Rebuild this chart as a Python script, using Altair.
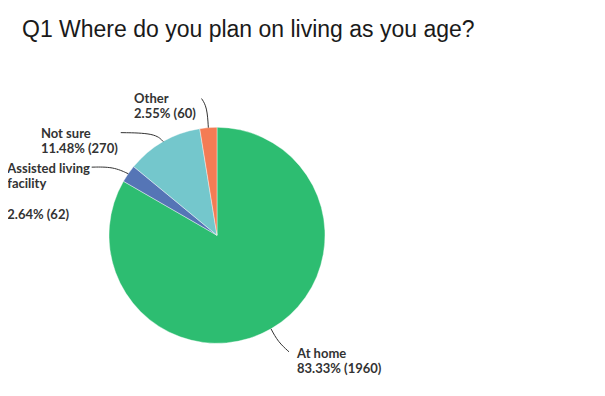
import altair as alt
import pandas as pd
import numpy as np

# ---- data ----
categories = ["At home", "Assisted living facility", "Not sure", "Other"]
counts = [1960, 62, 270, 60]
label_names = ["At home", "Assisted living\nfacility", "Not sure", "Other"]
colors = ["#2DBD71", "#5575B6", "#74C7CC", "#F47C54"]
title_text = "Q1 Where do you plan on living as you age?"

# ---- layout (styling) ----
W, H = 589, 380
PAGE = 8
CX, CY = 217 - PAGE, 235.3 - PAGE
R = 108
LH = 15.5
# leader layout: elbow offset & end offset (relative to slice edge), text anchor offset (relative to end), extra gap before pct
leader = {
    "At home": ((7, 13), (18, 23), (8, 6), 0),
    "Assisted living facility": ((-15, -7), (-36.6, -6.6), (-84.4, 5.7), LH),
    "Not sure": ((-8, -8.5), (-42.5, -9), (-79.8, 5), 0),
    "Other": ((-1.3, -20.6), (-6.8, -29.1), (-67.5, 4.2), 0),
}

total = sum(counts)
fracs = np.array(counts) / total
cum = np.concatenate([[0], np.cumsum(fracs)])
mids = (cum[:-1] + cum[1:]) / 2 * 2 * np.pi

pie_df = pd.DataFrame({"cat": categories, "count": counts, "idx": range(len(categories))})

line_rows, text_rows = [], []
for i, cat in enumerate(categories):
    sx = CX + R * np.sin(mids[i])
    sy = CY - R * np.cos(mids[i])
    (ex, ey), (nx, ny), (tx, ty), gap = leader[cat]
    pts = [(sx, sy), (sx + ex, sy + ey), (sx + nx, sy + ny)]
    for k, (px, py) in enumerate(pts):
        line_rows.append({"cat": cat, "k": k, "x": px, "y": py})
    pct = f"{counts[i] / total * 100:.2f}% ({counts[i]})"
    x0, y0 = sx + nx + tx, sy + ny + ty
    text_rows.append({"cat": cat, "x": x0, "y": y0, "label": label_names[i]})
    nlines = label_names[i].count("\n") + 1
    text_rows.append({"cat": cat, "x": x0, "y": y0 + nlines * LH + gap, "label": pct})

line_df = pd.DataFrame(line_rows)
text_df = pd.DataFrame(text_rows)
title_df = pd.DataFrame({"x": [22 - PAGE], "y": [36.8 - PAGE], "t": [title_text]})

xs = alt.Scale(domain=[0, W], range=[0, W], zero=False, nice=False)
ys = alt.Scale(domain=[H, 0], range=[H, 0], zero=False, nice=False)

pie = alt.Chart(pie_df).mark_arc(radius=R, stroke="white", strokeWidth=0.4).encode(
    theta=alt.Theta("count:Q", stack=True),
    color=alt.Color("cat:N", scale=alt.Scale(domain=categories, range=colors), legend=None),
    order=alt.Order("idx:Q"),
    x=alt.value(CX),
    y=alt.value(CY),
)

lines = alt.Chart(line_df).mark_line(color="#333333", strokeWidth=1, interpolate="basis").encode(
    x=alt.X("x:Q", scale=xs, axis=None),
    y=alt.Y("y:Q", scale=ys, axis=None),
    detail="cat:N",
    order="k:Q",
)

texts = alt.Chart(text_df).mark_text(
    align="left", baseline="alphabetic", font="Lato", fontSize=13, fontWeight="bold",
    color="#333333", lineBreak="\n", lineHeight=LH,
).encode(
    x=alt.X("x:Q", scale=xs, axis=None),
    y=alt.Y("y:Q", scale=ys, axis=None),
    text="label:N",
)

title = alt.Chart(title_df).mark_text(
    align="left", baseline="alphabetic", font="Liberation Sans", fontSize=23, color="#1a1a1a",
).encode(
    x=alt.X("x:Q", scale=xs, axis=None),
    y=alt.Y("y:Q", scale=ys, axis=None),
    text="t:N",
)

chart = alt.layer(pie, lines, texts, title).properties(
    width=W, height=H, autosize=alt.AutoSizeParams(type="none"), padding=0,
    background="white",
).configure_view(stroke=None)

chart.save("out.html", embed_options={"renderer": "svg", "actions": False})
